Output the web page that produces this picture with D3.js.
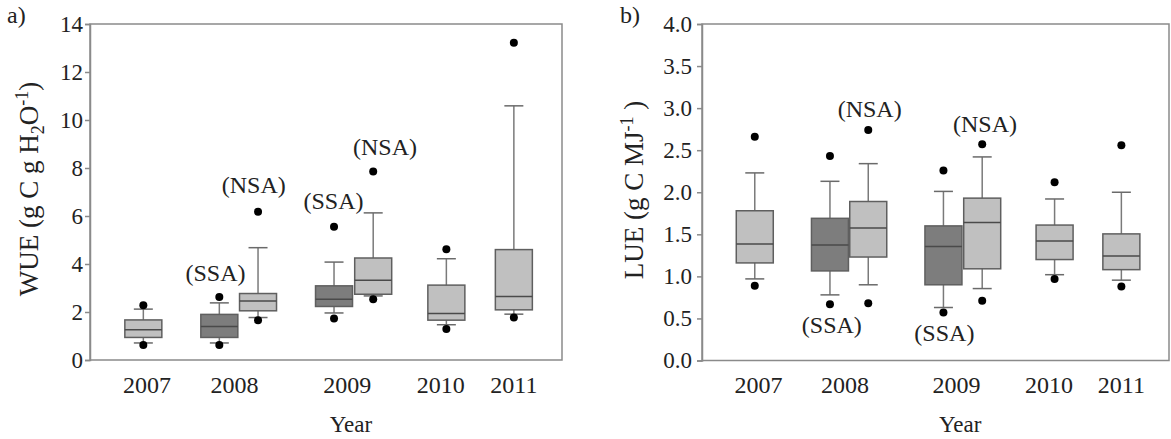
<!DOCTYPE html>
<meta charset="utf-8">
<script src="https://d3js.org/d3.v7.min.js"></script>
<style>
  body { margin: 0; background: #fff; }
  text { font-family: "Liberation Serif", "Times New Roman", serif; fill: #222; }
</style>
<svg id="chart" width="1171" height="439"></svg>
<script>

// boxes, in drawing order
const boxNames = ["2007", "2008 SSA", "2008 NSA", "2009 SSA", "2009 NSA", "2010", "2011"];
const boxSite  = ["all", "SSA", "NSA", "SSA", "NSA", "all", "all"];
const yearLabels = ["2007", "2008", "2009", "2010", "2011"];

// panel a) WUE (g C g H2O-1)
const wueOutLo = [0.62, 0.62, 1.66, 1.73, 2.53, 1.29, 1.77];
const wueWhLo  = [0.71, 0.71, 1.77, 1.96, 2.67, 1.47, 1.91];
const wueQ1    = [0.94, 0.94, 2.05, 2.23, 2.74, 1.66, 2.09];
const wueMed   = [1.26, 1.40, 2.46, 2.53, 3.32, 1.94, 2.65];
const wueQ3    = [1.67, 1.90, 2.77, 3.09, 4.25, 3.12, 4.60];
const wueWhHi  = [2.12, 2.38, 4.68, 4.08, 6.13, 4.22, 10.59];
const wueOutHi = [2.28, 2.63, 6.18, 5.55, 7.85, 4.61, 13.22];

// panel b) LUE (g C MJ-1)
const lueOutLo = [0.89, 0.67, 0.68, 0.57, 0.71, 0.97, 0.88];
const lueWhLo  = [0.97, 0.78, 0.90, 0.63, 0.855, 1.02, 0.955];
const lueQ1    = [1.16, 1.065, 1.23, 0.90, 1.09, 1.20, 1.08];
const lueMed   = [1.386, 1.374, 1.576, 1.354, 1.64, 1.42, 1.243];
const lueQ3    = [1.78, 1.69, 1.89, 1.60, 1.93, 1.61, 1.505];
const lueWhHi  = [2.23, 2.13, 2.34, 2.01, 2.42, 1.92, 2.00];
const lueOutHi = [2.66, 2.43, 2.74, 2.26, 2.57, 2.12, 2.56];

// site annotations: [text, x slot, y value]
const wueNotes = [["(SSA)", 2.66, 3.29], ["(NSA)", 3.47, 6.96], ["(SSA)", 5.16, 6.29], ["(NSA)", 6.25, 8.56]];
const lueNotes = [["(SSA)", 2.78, 0.325], ["(NSA)", 3.59, 2.90], ["(SSA)", 5.19, 0.226], ["(NSA)", 6.06, 2.72]];

// layout (slot units along x, 0..10)
const boxSlot  = [1.13, 2.74, 3.56, 5.17, 6.0, 7.55, 8.98];
const yearSlot = [1.21, 3.06, 5.45, 7.43, 8.98];

const svg = d3.select("#chart");
const boxW = 37, capW = 19;
const fillFor = s => s === "SSA" ? "#7d7d7d" : "#c0c0c0";

function panel(o) {
  const x = d3.scaleLinear().domain([0, 10]).range([o.left, o.right]);
  const y = d3.scaleLinear().domain(o.domain).range([o.bottom, o.top]);
  const g = svg.append("g");

  // frame
  g.append("rect")
    .attr("x", o.left).attr("y", o.top)
    .attr("width", o.right - o.left).attr("height", o.bottom - o.top)
    .attr("fill", "none").attr("stroke", "#8a8a8a").attr("stroke-width", 1.5);

  // y axis
  const ax = g.append("g")
    .attr("transform", `translate(${o.left},0)`)
    .call(d3.axisLeft(y).tickValues(o.ticks).tickFormat(o.fmt).tickSize(5).tickPadding(o.pad));
  ax.select(".domain").attr("stroke", "#8a8a8a").attr("stroke-width", 1.5);
  ax.selectAll(".tick line").attr("stroke", "#8a8a8a").attr("stroke-width", 1.5);
  ax.selectAll(".tick text").style("font-size", "23px").attr("fill", "#222")
    .style("font-family", '"Liberation Serif", serif');

  const s = o.stats;
  const idx = d3.range(boxNames.length);

  // whiskers
  g.selectAll(".wh").data(idx).join("line")
    .attr("x1", i => x(boxSlot[i])).attr("x2", i => x(boxSlot[i]))
    .attr("y1", i => y(s.whLo[i])).attr("y2", i => y(s.whHi[i]))
    .attr("stroke", "#7a7a7a").attr("stroke-width", 1.5);
  ["whLo", "whHi"].forEach(k => {
    g.selectAll(".cap" + k).data(idx).join("line")
      .attr("x1", i => x(boxSlot[i]) - capW / 2).attr("x2", i => x(boxSlot[i]) + capW / 2)
      .attr("y1", i => y(s[k][i])).attr("y2", i => y(s[k][i]))
      .attr("stroke", "#6a6a6a").attr("stroke-width", 1.5);
  });

  // boxes
  g.selectAll(".bx").data(idx).join("rect")
    .attr("x", i => x(boxSlot[i]) - boxW / 2)
    .attr("y", i => y(s.q3[i]))
    .attr("width", boxW)
    .attr("height", i => y(s.q1[i]) - y(s.q3[i]))
    .attr("fill", i => fillFor(boxSite[i]))
    .attr("stroke", "#5f5f5f").attr("stroke-width", 1.5);
  g.selectAll(".md").data(idx).join("line")
    .attr("x1", i => x(boxSlot[i]) - boxW / 2).attr("x2", i => x(boxSlot[i]) + boxW / 2)
    .attr("y1", i => y(s.med[i])).attr("y2", i => y(s.med[i]))
    .attr("stroke", "#4a4a4a").attr("stroke-width", 1.5);

  // outliers
  ["outLo", "outHi"].forEach(k => {
    g.selectAll(".o" + k).data(idx).join("circle")
      .attr("cx", i => x(boxSlot[i])).attr("cy", i => y(s[k][i]))
      .attr("r", 4).attr("fill", "#000");
  });

  // notes
  g.selectAll(".note").data(o.notes).join("text")
    .attr("x", d => x(d[1])).attr("y", d => y(d[2]))
    .attr("text-anchor", "middle").style("font-size", "24px")
    .text(d => d[0]);

  // year labels
  g.selectAll(".yr").data(yearLabels).join("text")
    .attr("x", (d, i) => x(yearSlot[i])).attr("y", 393)
    .attr("text-anchor", "middle").style("font-size", "24px")
    .text(d => d);
  g.append("text")
    .attr("x", x(5.53)).attr("y", 432)
    .attr("text-anchor", "middle").style("font-size", "23px")
    .text("Year");

  // panel letter
  g.append("text").attr("x", o.letterX).attr("y", 23)
    .style("font-size", "24px").text(o.letter);

  // y title
  const t = g.append("text")
    .attr("transform", `translate(${o.titleX},${o.titleY}) rotate(-90)`)
    .attr("text-anchor", "middle").style("font-size", "27px");
  o.title(t);
}

panel({
  left: 90, right: 562, top: 24, bottom: 360,
  domain: [0, 14], ticks: d3.range(0, 15, 2), fmt: d3.format("d"), pad: 2,
  stats: { outLo: wueOutLo, whLo: wueWhLo, q1: wueQ1, med: wueMed, q3: wueQ3, whHi: wueWhHi, outHi: wueOutHi },
  notes: wueNotes, letter: "a)", letterX: 7,
  titleX: 38, titleY: 189,
  title: t => {
    t.append("tspan").text("WUE (g C g H");
    t.append("tspan").attr("dy", 6).style("font-size", "18px").text("2");
    t.append("tspan").attr("dy", -6).text("O");
    t.append("tspan").attr("dy", -10).style("font-size", "18px").text("-1");
    t.append("tspan").attr("dy", 10).text(")");
  }
});

panel({
  left: 702, right: 1169, top: 24, bottom: 360.5,
  domain: [0, 4], ticks: d3.range(0, 4.01, 0.5), fmt: d3.format(".1f"), pad: 5,
  stats: { outLo: lueOutLo, whLo: lueWhLo, q1: lueQ1, med: lueMed, q3: lueQ3, whHi: lueWhHi, outHi: lueOutHi },
  notes: lueNotes, letter: "b)", letterX: 620,
  titleX: 643, titleY: 190,
  title: t => {
    t.append("tspan").text("LUE (g C MJ");
    t.append("tspan").attr("dy", -10).style("font-size", "18px").text("-1");
    t.append("tspan").attr("dy", 10).text(" )");
  }
});

</script>
